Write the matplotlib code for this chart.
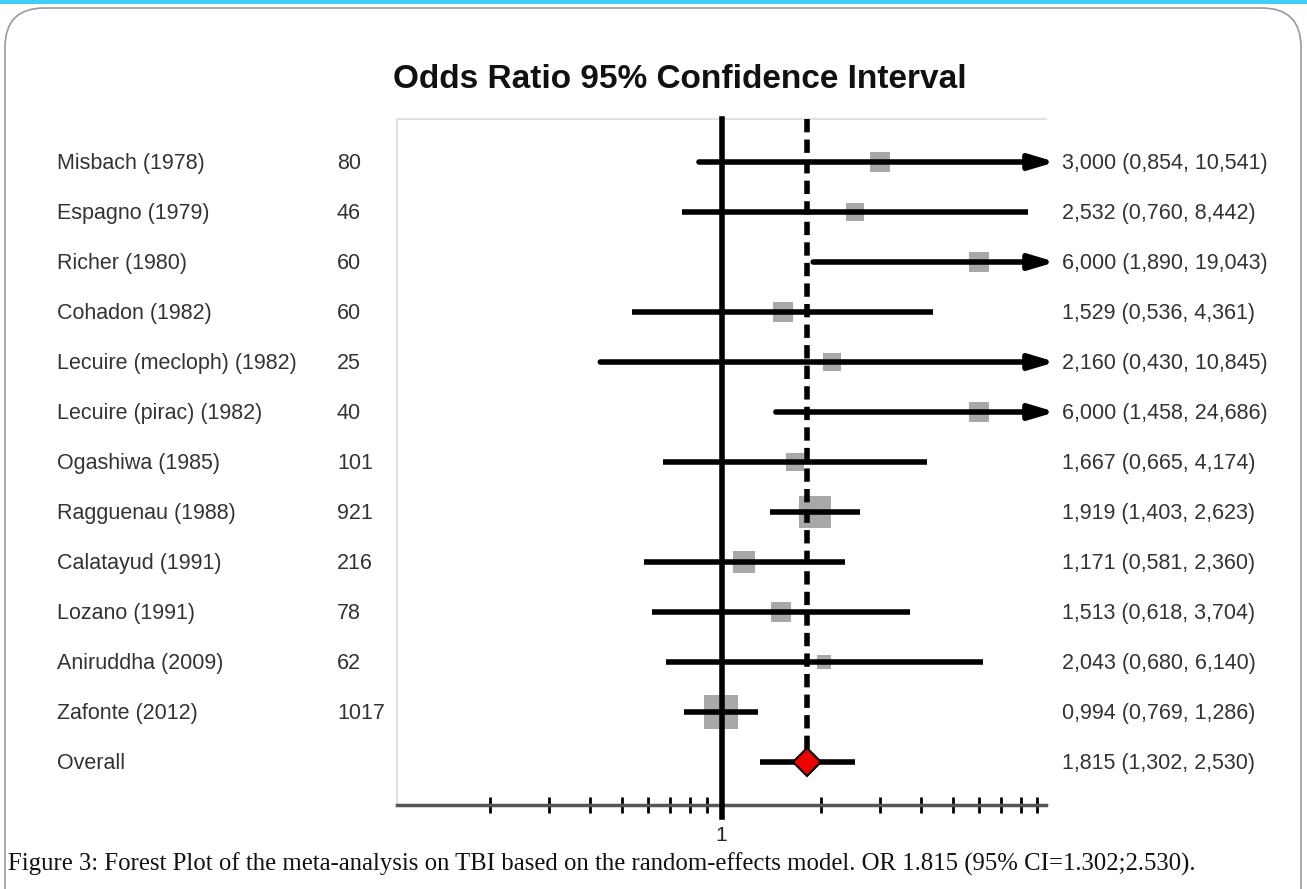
import numpy as np
import matplotlib
matplotlib.use("Agg")
from matplotlib import pyplot as plt
from matplotlib.patches import FancyBboxPatch, Rectangle
from matplotlib.transforms import blended_transform_factory

# study data
studies = ["Misbach (1978)", "Espagno (1979)", "Richer (1980)", "Cohadon (1982)",
           "Lecuire (mecloph) (1982)", "Lecuire (pirac) (1982)", "Ogashiwa (1985)",
           "Ragguenau (1988)", "Calatayud (1991)", "Lozano (1991)",
           "Aniruddha (2009)", "Zafonte (2012)"]
n_pat = ["80", "46", "60", "60", "25", "40", "101", "921", "216", "78", "62", "1017"]
odds = [3.000, 2.532, 6.000, 1.529, 2.160, 6.000, 1.667, 1.919, 1.171, 1.513, 2.043, 0.994]
lower = [0.854, 0.760, 1.890, 0.536, 0.430, 1.458, 0.665, 1.403, 0.581, 0.618, 0.680, 0.769]
upper = [10.541, 8.442, 19.043, 4.361, 10.845, 24.686, 4.174, 2.623, 2.360, 3.704, 6.140, 1.286]
weights = [5.0, 4.5, 5.0, 5.0, 4.5, 5.0, 4.5, 14, 6.5, 5.0, 2.5, 15]  # approx, from square sizes
overall = (1.815, 1.302, 2.530)

W, H = 1307, 889
fig = plt.figure(figsize=(W / 100, H / 100), dpi=100)

# page frame
fig.patches.append(Rectangle((0, 1 - 4 / H), 1, 4 / H, transform=fig.transFigure,
                             facecolor="#3fcff4", edgecolor="none"))
fig.patches.append(FancyBboxPatch((5 / W, -40 / H), 1296 / W, (H - 8 + 40) / H,
                                  boxstyle="round,pad=0,rounding_size=0.03",
                                  transform=fig.transFigure, facecolor="none",
                                  edgecolor="#9a9a9a", lw=1.2, mutation_aspect=W / H))

# plot area in pixels: x 397..1046, y 119..805
ax = fig.add_axes([397 / W, 1 - 805 / H, (1046 - 397) / W, (805 - 119) / H])
ax.set_xscale("log")
ax.set_xlim(0.1045, 9.55)
ax.set_ylim(12.86, -0.86)

ax.spines["right"].set_visible(False)
ax.spines["top"].set_color("#e2e2e2")
ax.spines["left"].set_color("#e2e2e2")
ax.spines["top"].set_linewidth(1.5)
ax.spines["left"].set_linewidth(1.5)
ax.spines["bottom"].set_color("#555555")
ax.spines["bottom"].set_linewidth(2.5)

ticks = [0.2, 0.3, 0.4, 0.5, 0.6, 0.7, 0.8, 0.9, 1, 2, 3, 4, 5, 6, 7, 8, 9]
ax.xaxis.set_minor_locator(matplotlib.ticker.NullLocator())
ax.set_xticks(ticks)
ax.set_xticklabels(["1" if t == 1 else "" for t in ticks])
ax.tick_params(axis="x", direction="inout", length=12, width=2, color="black",
               labelsize=15, pad=9, labelcolor="#222222")
ax.set_yticks([])
for lab in ax.get_xticklabels():
    lab.set_fontfamily("Liberation Sans")

# reference line at 1 and dashed line at overall
ax.plot([1, 1], [-0.86, 13.1], color="black", lw=4, clip_on=False, zorder=3)
ax.plot([overall[0], overall[0]], [-0.86, 12], color="black", lw=4,
        linestyle=(0, (2.4, 1.3)), zorder=3)

xmax_line = 10.2
for i in range(len(studies)):
    y = i
    size = np.sqrt(weights[i]) * 6.2
    ax.plot(odds[i], y, marker="s", markersize=size, color="#a8a8a8",
            markeredgewidth=0, zorder=2, clip_on=False)
    if upper[i] > 9.55:
        ax.annotate("", xy=(xmax_line, y), xytext=(lower[i], y),
                    arrowprops=dict(arrowstyle="-|>,head_length=1.5,head_width=0.45",
                                    lw=4, color="black", shrinkA=0, shrinkB=0),
                    annotation_clip=False, zorder=4)
    else:
        ax.plot([lower[i], upper[i]], [y, y], color="black", lw=4,
                solid_capstyle="butt", zorder=4)

yo = len(studies)
ax.plot([overall[1], overall[2]], [yo, yo], color="black", lw=4,
        solid_capstyle="butt", zorder=4)
ax.plot(overall[0], yo, marker="D", markersize=14, color="#ee0000",
        markeredgecolor="black", markeredgewidth=1.5, zorder=5)

# text columns
tr = blended_transform_factory(fig.transFigure, ax.transData)
font = dict(fontfamily="Liberation Sans", fontsize=15.5, color="#333333",
            va="center", ha="left", transform=tr)


def fmt(v):
    return ("%.3f" % v).replace(".", ",")


labels = studies + ["Overall"]
nums = n_pat + [""]
ors = odds + [overall[0]]
los = lower + [overall[1]]
ups = upper + [overall[2]]
for i in range(len(labels)):
    ax.text(57 / W, i + 0.03, labels[i], **font)
    ax.text(337 / W, i + 0.03, nums[i], **font)
    ax.text(1062 / W, i + 0.03, "%s (%s, %s)" % (fmt(ors[i]), fmt(los[i]), fmt(ups[i])), **font)

fig.text(680 / W, 1 - 80 / H, "Odds Ratio 95% Confidence Interval", ha="center",
         va="center", fontsize=24, fontweight="bold", fontfamily="Liberation Sans",
         color="#111111")

fig.text(8 / W, 1 - 864 / H,
         "Figure 3: Forest Plot of the meta-analysis on TBI based on the random-effects model. "
         "OR 1.815 (95% CI=1.302;2.530).",
         ha="left", va="center", fontsize=17.8, fontfamily="Liberation Serif", color="#111111")

fig.savefig("out.png", dpi=100)
